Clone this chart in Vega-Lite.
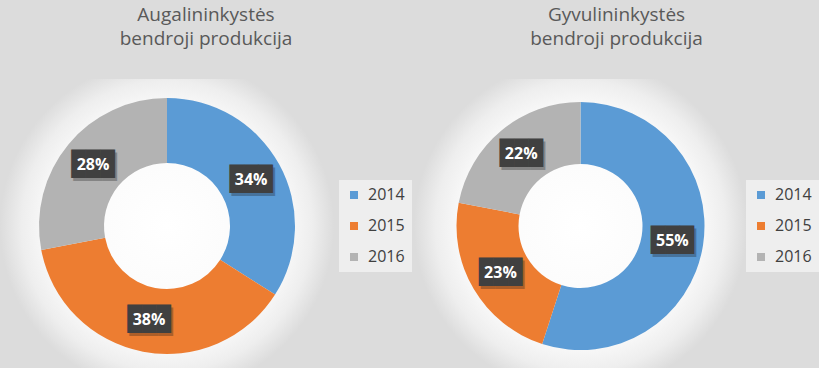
{
  "$schema": "https://vega.github.io/schema/vega-lite/v6.json",
  "padding": {"left": 0, "top": 6, "right": 0, "bottom": 0},
  "background": "#dcdcdc",
  "spacing": 2,
  "resolve": {"scale": {"color": "independent", "theta": "independent"}, "legend": {"color": "independent"}},
  "datasets": {
    "aug": [{"year": "2014", "v": 0.34}, {"year": "2015", "v": 0.38}, {"year": "2016", "v": 0.28}],
    "gyv": [{"year": "2014", "v": 0.55}, {"year": "2015", "v": 0.23}, {"year": "2016", "v": 0.22}]
  },
  "config": {
    "view": {"stroke": null},
    "font": "Open Sans",
    "title": {"fontSize": 19, "font": "Open Sans", "fontWeight": "normal", "color": "#595959", "lineHeight": 24, "anchor": "middle", "frame": "bounds", "offset": 30, "dx": 0},
    "legend": {"title": null, "symbolType": "square", "symbolSize": 64, "symbolStrokeWidth": 0, "labelFont": "Open Sans", "labelFontSize": 16, "labelColor": "#404040", "rowPadding": 15, "padding": 7, "fillColor": "#eeeeee", "labelOffset": 6}
  },
  "hconcat": [
    {
      "data": {"name": "aug"},
      "title": {"text": ["Augalininkystės", "bendroji produkcija"]},
      "width": 334,
      "height": 294,
      "layer": [
        {"mark": {"type": "rect", "color": {"gradient": "radial", "x1": 0.5, "y1": 0.5, "r1": 0, "x2": 0.5, "y2": 0.5, "r2": 0.5, "stops": [{"offset": 0, "color": "#ffffff"}, {"offset": 0.72, "color": "#f9f9f9"}, {"offset": 0.87, "color": "#eeeeee"}, {"offset": 1, "color": "#dcdcdc"}]}}, "encoding": {}},
        {"mark": {"type": "arc", "outerRadius": 128, "innerRadius": 63},
         "encoding": {
           "theta": {"field": "v", "type": "quantitative", "stack": true},
           "order": {"field": "year", "type": "ordinal", "sort": "ascending"},
           "color": {"field": "year", "type": "nominal", "scale": {"domain": ["2014", "2015", "2016"], "range": ["#5B9BD5", "#ED7D31", "#B3B3B3"]}, "legend": {"orient": "none", "legendX": 339, "legendY": 101}}}},
        {"mark": {"type": "text", "radius": 96, "text": "███", "font": "DejaVu Sans Mono", "fontSize": 24, "color": "#1a1a1a", "opacity": 0.3, "dx": 2, "dy": 3},
         "encoding": {"theta": {"field": "v", "type": "quantitative", "stack": true}, "order": {"field": "year", "type": "ordinal", "sort": "ascending"}}},
        {"mark": {"type": "text", "radius": 96, "text": "███", "font": "DejaVu Sans Mono", "fontSize": 24, "color": "#404040"},
         "encoding": {"theta": {"field": "v", "type": "quantitative", "stack": true}, "order": {"field": "year", "type": "ordinal", "sort": "ascending"}}},
        {"mark": {"type": "text", "radius": 96, "fontSize": 16, "fontWeight": "bold", "font": "Open Sans", "color": "#ffffff"},
         "encoding": {"theta": {"field": "v", "type": "quantitative", "stack": true}, "order": {"field": "year", "type": "ordinal", "sort": "ascending"}, "text": {"field": "v", "type": "quantitative", "format": ".0%"}}}
      ]
    },
    {
      "data": {"name": "gyv"},
      "title": {"text": ["Gyvulininkystės", "bendroji produkcija"]},
      "width": 333,
      "height": 294,
      "layer": [
        {"mark": {"type": "rect", "color": {"gradient": "radial", "x1": 0.5, "y1": 0.5, "r1": 0, "x2": 0.5, "y2": 0.5, "r2": 0.5, "stops": [{"offset": 0, "color": "#ffffff"}, {"offset": 0.72, "color": "#f9f9f9"}, {"offset": 0.87, "color": "#eeeeee"}, {"offset": 1, "color": "#dcdcdc"}]}}, "encoding": {}},
        {"mark": {"type": "arc", "outerRadius": 124, "innerRadius": 62},
         "encoding": {
           "theta": {"field": "v", "type": "quantitative", "stack": true},
           "order": {"field": "year", "type": "ordinal", "sort": "ascending"},
           "color": {"field": "year", "type": "nominal", "scale": {"domain": ["2014", "2015", "2016"], "range": ["#5B9BD5", "#ED7D31", "#B3B3B3"]}, "legend": {"orient": "none", "legendX": 332, "legendY": 101}}}},
        {"mark": {"type": "text", "radius": 93, "text": "███", "font": "DejaVu Sans Mono", "fontSize": 24, "color": "#1a1a1a", "opacity": 0.3, "dx": 2, "dy": 3},
         "encoding": {"theta": {"field": "v", "type": "quantitative", "stack": true}, "order": {"field": "year", "type": "ordinal", "sort": "ascending"}}},
        {"mark": {"type": "text", "radius": 93, "text": "███", "font": "DejaVu Sans Mono", "fontSize": 24, "color": "#404040"},
         "encoding": {"theta": {"field": "v", "type": "quantitative", "stack": true}, "order": {"field": "year", "type": "ordinal", "sort": "ascending"}}},
        {"mark": {"type": "text", "radius": 93, "fontSize": 16, "fontWeight": "bold", "font": "Open Sans", "color": "#ffffff"},
         "encoding": {"theta": {"field": "v", "type": "quantitative", "stack": true}, "order": {"field": "year", "type": "ordinal", "sort": "ascending"}, "text": {"field": "v", "type": "quantitative", "format": ".0%"}}}
      ]
    }
  ]
}
